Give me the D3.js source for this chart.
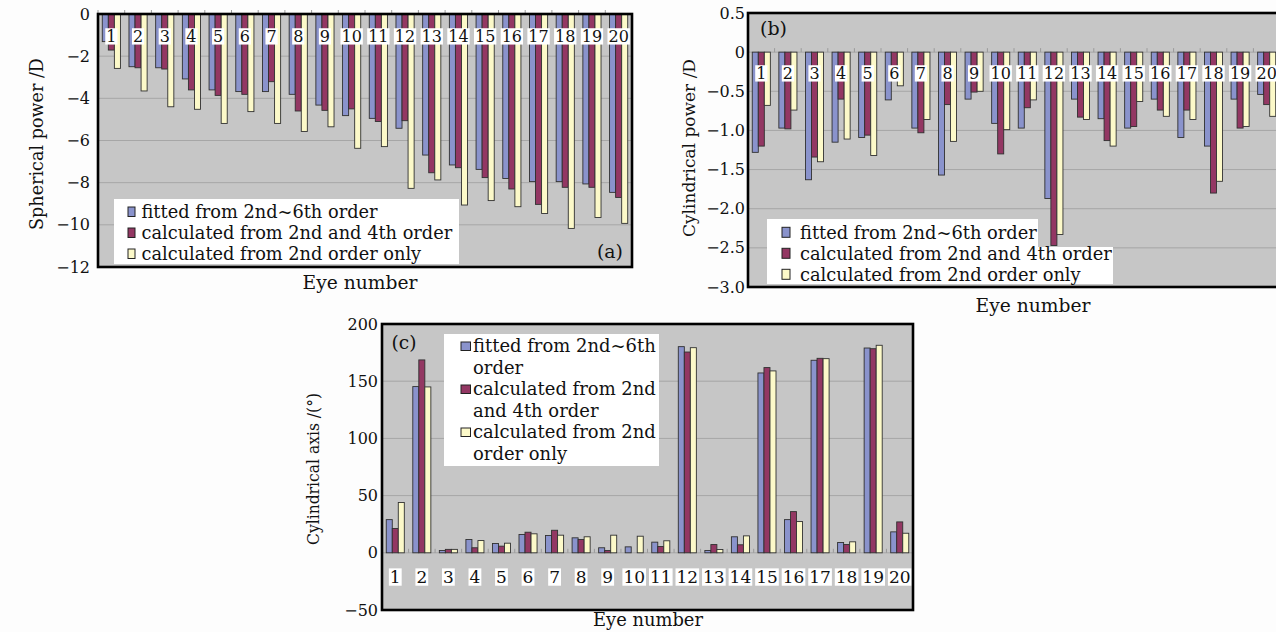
<!DOCTYPE html>
<html><head><meta charset="utf-8">
<script src="https://cdn.jsdelivr.net/npm/d3@7"></script>
<style>
body{margin:0;background:#fdfdfd}
svg{display:block}
text{font-family:"DejaVu Serif",serif;fill:#111}
</style>
</head><body>
<svg id="chart" width="1276" height="632"></svg>
<script>
// ---------------- data ----------------
const eyes = ["1","2","3","4","5","6","7","8","9","10","11","12","13","14","15","16","17","18","19","20"];
const seriesNames = ["fitted from 2nd~6th order","calculated from 2nd and 4th order","calculated from 2nd order only"];
const legendLinesC = [["fitted from 2nd~6th","order"],["calculated from 2nd","and 4th order"],["calculated from 2nd","order only"]];

// (a) spherical power /D
const sphFitted = [-1.31,-2.50,-2.55,-3.08,-3.60,-3.68,-3.68,-3.81,-4.32,-4.82,-4.95,-5.42,-6.69,-7.16,-7.37,-7.80,-7.95,-7.95,-8.06,-8.46];
const sphCalc24 = [-1.71,-2.55,-2.61,-3.60,-3.86,-3.81,-3.21,-4.60,-4.57,-4.50,-5.10,-5.06,-7.53,-7.29,-7.76,-8.30,-9.03,-8.22,-8.22,-8.70];
const sphCalc2  = [-2.58,-3.65,-4.40,-4.52,-5.19,-4.63,-5.19,-5.57,-5.35,-6.37,-6.29,-8.27,-7.87,-9.06,-8.85,-9.14,-9.46,-10.17,-9.65,-9.93];
const sphTicks = [0,-2,-4,-6,-8,-10,-12];

// (b) cylindrical power /D
const cylFitted = [-1.28,-0.97,-1.63,-1.15,-1.09,-0.61,-0.97,-1.57,-0.60,-0.91,-0.97,-1.87,-0.60,-0.85,-0.97,-0.60,-1.09,-1.20,-0.60,-0.54];
const cylCalc24 = [-1.20,-0.98,-1.34,-0.60,-1.06,-0.28,-1.03,-0.67,-0.51,-1.30,-0.71,-2.47,-0.83,-1.13,-0.95,-0.74,-0.74,-1.80,-0.97,-0.67];
const cylCalc2  = [-0.68,-0.74,-1.40,-1.11,-1.32,-0.43,-0.86,-1.14,-0.50,-0.99,-0.61,-2.33,-0.86,-1.20,-0.63,-0.82,-0.86,-1.65,-0.95,-0.82];
const cylTicks = [0.5,0,-0.5,-1.0,-1.5,-2.0,-2.5,-3.0];

// (c) cylindrical axis /(°)
const axFitted = [29,145.3,2,11.6,8.1,16,15.1,13.1,4.4,5.2,9.3,180.2,2,14,157.2,29,168.3,9,179,18.3];
const axCalc24 = [21.2,168.6,3,4.4,5.8,18,19.7,11.6,2,0,5.5,175.5,7.2,7,161.9,36,170,7.2,178.4,27];
const axCalc2  = [44,145,3,10.7,8.4,16.6,15.4,14,15.4,14.5,10.5,179.3,2.9,14.8,159,27.3,169.7,9.6,181.4,17.1];
const axTicks = [200,150,100,50,0,-50];

const colors = ["#8a93cc","#933763","#fcf9c9"];

// ---------------- drawing ----------------
const svg = d3.select("#chart");

function fitSize(sel, target, base){
  sel.style("font-size", base + "px");
  const w = sel.node().getComputedTextLength();
  const s = base * target / w;
  sel.style("font-size", s + "px");
  return s;
}

function panel(o){
  const g = svg.append("g");
  const x = d3.scaleBand().domain(eyes).range([o.x0, o.x1]).paddingInner(0.32).paddingOuter(0.16);
  const xs = d3.scaleBand().domain([0,1,2]).range([0, x.bandwidth()]);
  const y = d3.scaleLinear().domain(o.domain).range([o.y1, o.y0]);

  g.append("rect").attr("x", o.x0).attr("y", o.y0)
    .attr("width", o.x1 - o.x0).attr("height", o.y1 - o.y0).attr("fill", "#c6c6c6");

  g.selectAll(".grid").data(o.ticks).join("line")
    .attr("x1", o.x0).attr("x2", o.x1)
    .attr("y1", d => y(d)).attr("y2", d => y(d))
    .attr("stroke", "#a6a6a6").attr("stroke-width", 1);

  // small category ticks on zero line
  const bounds = eyes.map(e => x(e) - x.step() * x.paddingInner() / 2);
  g.selectAll(".ct").data(bounds).join("line")
    .attr("x1", d => d).attr("x2", d => d)
    .attr("y1", y(0)).attr("y2", y(0) - 4)
    .attr("stroke", "#9a9a9a").attr("stroke-width", 1);

  o.series.forEach((vals, si) => {
    g.selectAll(null).data(vals).join("rect")
      .attr("x", (d, i) => x(eyes[i]) + xs(si))
      .attr("width", xs.bandwidth())
      .attr("y", d => y(Math.max(0, d)))
      .attr("height", d => Math.abs(y(d) - y(0)))
      .attr("fill", colors[si])
      .attr("stroke", "#303030").attr("stroke-width", 0.9);
  });

  // category labels
  const lg = g.append("g");
  eyes.forEach(e => {
    const t = lg.append("text").attr("x", x(e) + x.bandwidth() / 2).attr("y", o.labelBase)
      .attr("text-anchor", "middle").style("font-size", o.labelSize + "px").text(e);
    const b = t.node().getBBox();
    lg.insert("rect", "text").attr("x", b.x - 1).attr("y", o.labelBase - o.labelSize * 0.86)
      .attr("width", b.width + 2).attr("height", o.labelSize * 1.02).attr("fill", "#ffffff");
  });

  // legend
  const L = o.legend;
  L.rects.forEach(r => g.append("rect").attr("x", r[0]).attr("y", r[1])
    .attr("width", r[2] - r[0]).attr("height", r[3] - r[1]).attr("fill", "#ffffff"));
  const probe = g.append("text").text(L.fitText);
  const fs = fitSize(probe, L.fitLen, 17);
  probe.remove();
  L.entries.forEach((en, si) => {
    g.append("rect").attr("x", L.swX).attr("y", en.base[0] - L.swOff - L.swH)
      .attr("width", L.swW).attr("height", L.swH)
      .attr("fill", colors[si]).attr("stroke", "#222").attr("stroke-width", 1);
    en.lines.forEach((ln, k) => {
      g.append("text").attr("x", L.textX).attr("y", en.base[k]).style("font-size", fs + "px").text(ln);
    });
  });

  // frame
  g.append("rect").attr("x", o.x0).attr("y", o.y0)
    .attr("width", o.x1 - o.x0).attr("height", o.y1 - o.y0)
    .attr("fill", "none").attr("stroke", "#000").attr("stroke-width", 2.6);

  // y axis labels
  const ax = g.append("g").attr("transform", `translate(${o.x0},0)`)
    .call(d3.axisLeft(y).tickValues(o.ticks).tickSize(0).tickPadding(o.tickPad).tickFormat(o.fmt));
  ax.select(".domain").remove();
  ax.selectAll("text").style("font-family", '"DejaVu Serif",serif').style("font-size", "16px").attr("fill", "#111");

  // tag
  const tg = g.append("text").attr("x", o.tag.x).attr("y", o.tag.y).attr("text-anchor", "middle").text(o.tag.text);
  fitSize(tg, o.tag.len, 17);

  // titles
  const yt = g.append("text").attr("transform", `translate(${o.yTitle.x},${o.yTitle.y}) rotate(-90)`)
    .attr("text-anchor", "middle").attr("dy", "0.35em").text(o.yTitle.text);
  if (o.yTitle.size) {
    yt.style("font-size", o.yTitle.size + "px").attr("textLength", o.yTitle.len).attr("lengthAdjust", "spacingAndGlyphs");
  } else {
    fitSize(yt, o.yTitle.len, 17);
  }
  const xt = g.append("text").attr("x", o.xTitle.x).attr("y", o.xTitle.y).attr("text-anchor", "middle").text("Eye number");
  fitSize(xt, o.xTitle.len, 17);
}

const fmtInt = d => d3.format("d")(d);
const fmtCyl = d => d === 0 ? "0" : d3.format(".1f")(d);

panel({
  x0: 98, x1: 632, y0: 14, y1: 267, domain: [-12, 0], ticks: sphTicks, fmt: fmtInt, tickPad: 8,
  series: [sphFitted, sphCalc24, sphCalc2], labelBase: 42, labelSize: 16,
  legend: { rects: [[114,199,459,264]], textX: 141.5, swX: 128, swW: 7, swH: 9.5, swOff: 1.5,
    fitText: seriesNames[1], fitLen: 311,
    entries: [{lines:[seriesNames[0]], base:[218]},{lines:[seriesNames[1]], base:[239]},{lines:[seriesNames[2]], base:[260]}] },
  tag: { text: "(a)", x: 610, y: 258, len: 26 },
  yTitle: { text: "Spherical power /D", x: 37, y: 144, len: 172 },
  xTitle: { x: 360, y: 289, len: 115 }
});

panel({
  x0: 748, x1: 1280, y0: 13, y1: 287, domain: [-3, 0.5], ticks: cylTicks, fmt: fmtCyl, tickPad: 3,
  series: [cylFitted, cylCalc24, cylCalc2], labelBase: 79, labelSize: 16,
  legend: { rects: [[767,219,1038,247],[767,247,1113,284]], textX: 800, swX: 782, swW: 8, swH: 10, swOff: 1.7,
    fitText: seriesNames[1], fitLen: 312,
    entries: [{lines:[seriesNames[0]], base:[239]},{lines:[seriesNames[1]], base:[260]},{lines:[seriesNames[2]], base:[281]}] },
  tag: { text: "(b)", x: 773.5, y: 35, len: 27 },
  yTitle: { text: "Cylindrical power /D", x: 689, y: 148, len: 178 },
  xTitle: { x: 1033, y: 312, len: 115 }
});

panel({
  x0: 382, x1: 913, y0: 324, y1: 610, domain: [-50, 200], ticks: axTicks, fmt: fmtInt, tickPad: 4,
  series: [axFitted, axCalc24, axCalc2], labelBase: 583, labelSize: 17,
  legend: { rects: [[444,334,659,466]], textX: 473, swX: 461, swW: 9.5, swH: 8.5, swOff: 1.5,
    fitText: legendLinesC[1][0], fitLen: 183,
    entries: [{lines:legendLinesC[0], base:[352,373.5]},{lines:legendLinesC[1], base:[395,416.5]},{lines:legendLinesC[2], base:[438,459.5]}] },
  tag: { text: "(c)", x: 404, y: 349, len: 25 },
  yTitle: { text: "Cylindrical axis /(°)", x: 313, y: 469, len: 152, size: 16.5 },
  xTitle: { x: 648, y: 626, len: 110 }
});
</script>
</body></html>
